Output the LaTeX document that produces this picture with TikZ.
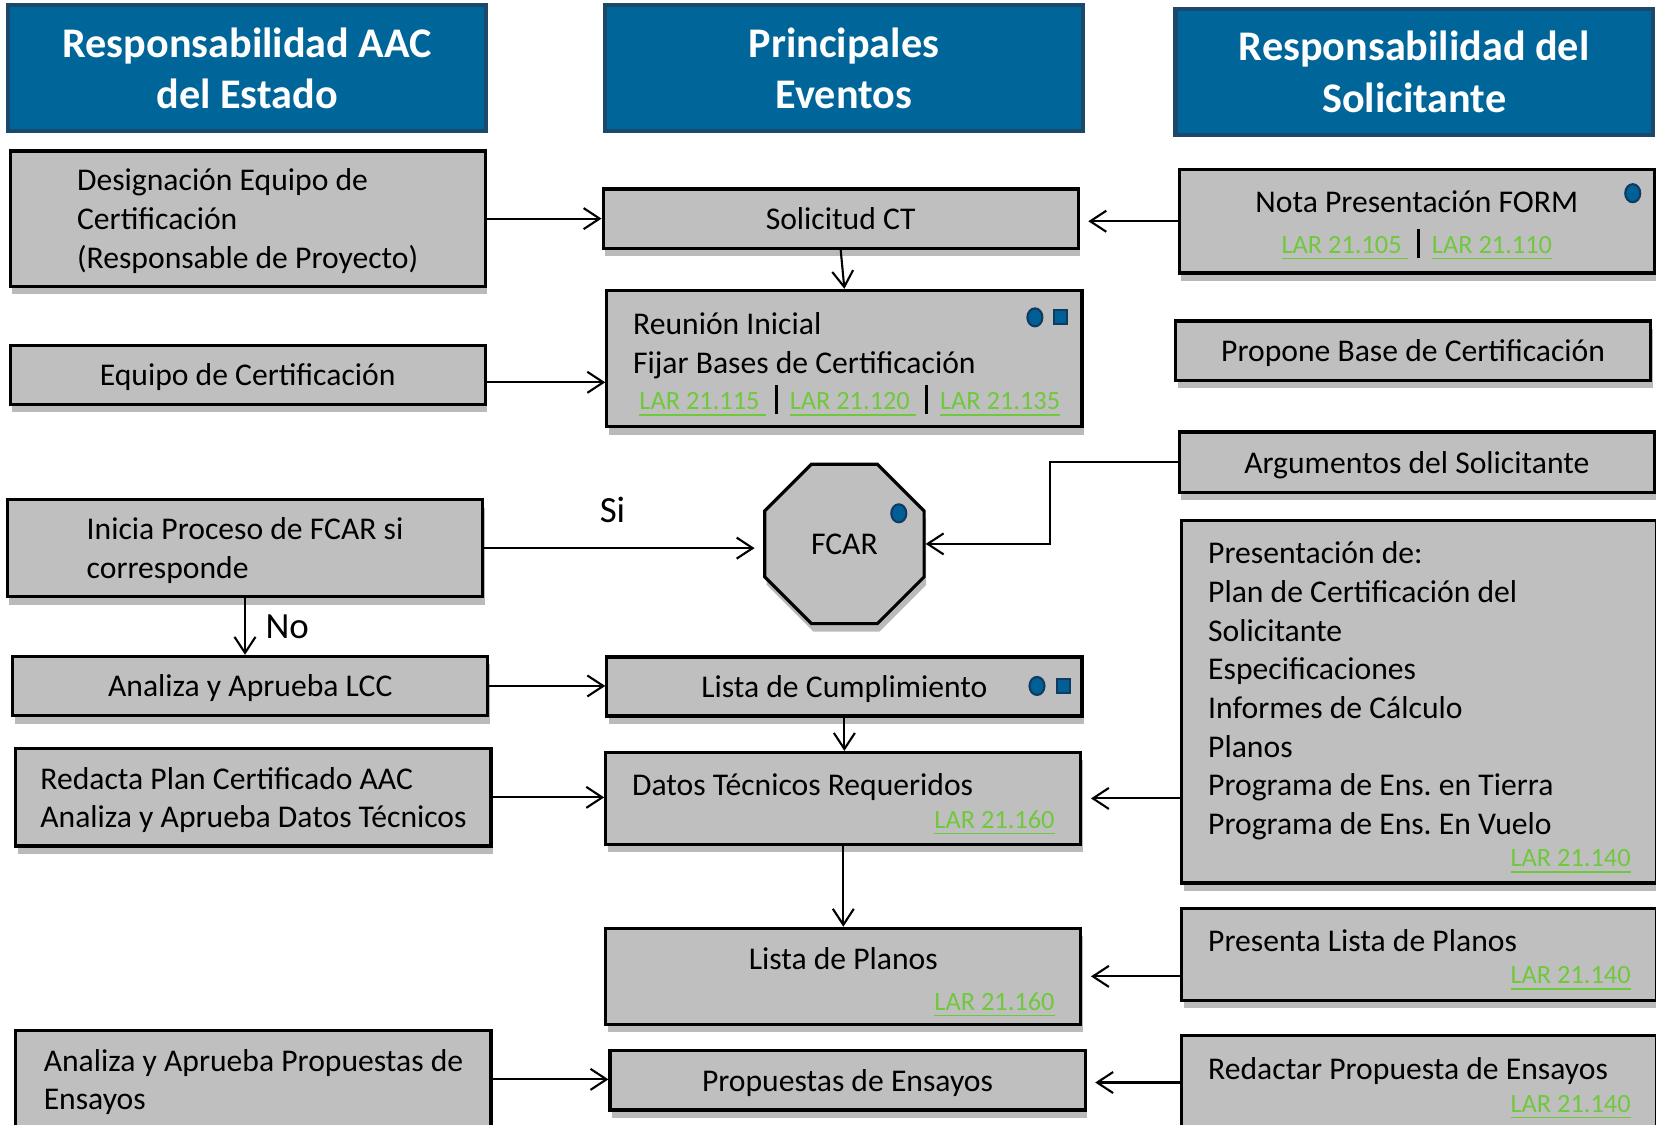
\documentclass[tikz,border=0pt]{standalone}
\usepackage{fontspec}
\setmainfont{Carlito}
\usetikzlibrary{shapes.geometric,arrows.meta,shadows}

\definecolor{cabecera}{RGB}{0,102,153}
\definecolor{bordecab}{RGB}{28,72,108}
\definecolor{gris}{RGB}{191,191,191}
\definecolor{enlace}{RGB}{112,200,60}
\definecolor{marca}{RGB}{0,96,150}
\definecolor{marcaosc}{RGB}{16,58,96}

\newcommand{\lar}[1]{\textcolor{enlace}{\fontsize{7.5}{9}\selectfont\underline{#1}}}
\newcommand{\barra}{\hspace{2.7pt}\rule[-1.2pt]{0.9pt}{8.2pt}\hspace{3.3pt}}
\newcommand{\larder}[2]{\makebox[4.224cm][r]{\raisebox{#1}{\lar{#2}}}}
\newcommand{\alto}{\rule{0pt}{9.8pt}}

\begin{document}
\frenchspacing
\begin{tikzpicture}[x=0.010561cm,y=-0.010561cm,
    cab/.style={draw=bordecab,line width=1.2pt,fill=cabecera,text=white,
      font=\fontsize{12}{14.6}\selectfont\bfseries,align=center,
      minimum width=4.774cm,minimum height=1.257cm,inner sep=0pt},
    marco/.style={draw,line width=0.9pt,fill=gris,font=\fontsize{9}{11}\selectfont,
      minimum width=4.75cm,inner sep=0pt,
      drop shadow={shadow xshift=0.2mm,shadow yshift=-0.8mm,fill=black!60,opacity=0.45}},
    caja/.style={marco,text depth=0pt},
    lista/.style={marco,align=flush left,text width=4.224cm},
    flecha/.style={-{Straight Barb[length=1.6mm,width=2.1mm]},line width=0.6pt},
    hueco/.style={shorten >=0.85mm},
    bola/.style={ellipse,fill=marca,draw=marcaosc,line width=0.6pt,
      minimum width=1.5mm,minimum height=1.8mm,inner sep=0pt},
    cuadro/.style={rectangle,fill=marca,draw=marcaosc,line width=0.6pt,
      minimum width=1.25mm,minimum height=1.4mm,inner sep=0pt},
    rotulo/.style={font=\fontsize{10.5}{12}\selectfont,inner sep=1pt}]

  \useasboundingbox (0,0) rectangle (1568,1065);

  \node[cab] (cabAAC) at (234,64.5) {Responsabilidad AAC\\del Estado};
  \node[cab] (cabEv) at (799,64.5) {Principales\\Eventos};
  \node[cab] (cabSol) at (1339,68) {Responsabilidad del\\Solicitante};

  \node[caja,align=left,minimum height=1.352cm] (designa) at (234.5,207)
    {Designación Equipo de\\Certificación\\(Responsable de Proyecto)};
  \node[caja,align=center,minimum height=0.591cm] (equipo) at (234.5,355)
    {Equipo de Certificación};
  \node[caja,align=left,minimum height=0.972cm] (inicia) at (232,519)
    {Inicia Proceso de FCAR si\\corresponde};
  \node[caja,align=center,minimum height=0.591cm] (lcc) at (237,649.5)
    {Analiza y Aprueba LCC};
  \node[caja,align=left,minimum height=0.972cm] (redacta) at (240,755)
    {Redacta Plan Certificado AAC\\Analiza y Aprueba Datos Técnicos};
  \node[caja,align=left,minimum height=0.972cm] (propAAC) at (240,1022)
    {Analiza y Aprueba Propuestas de\\Ensayos};

  \node[caja,align=center,minimum height=0.591cm] (solic) at (796,207) {Solicitud CT};
  \node[lista,minimum height=1.362cm] (reunion) at (799.5,339.5)
    {\alto Reunión Inicial\\Fijar Bases de Certificación\\
     \mbox{\hspace{1.8pt}\raisebox{0.5pt}{\lar{LAR 21.115\ }\barra\lar{LAR 21.120\ }\barra\lar{LAR 21.135}}}};
  \node[caja,regular polygon,regular polygon sides=8,minimum size=1.725cm,
    minimum width=0pt] (fcar) at (799.5,515) {FCAR};
  \node[caja,align=center,minimum height=0.591cm] (lista) at (799.5,650)
    {Lista de Cumplimiento};
  \node[lista,minimum height=0.919cm] (datos) at (798.5,756)
    {\alto Datos Técnicos Requeridos\\\larder{1.8pt}{LAR 21.160}};
  \node[lista,minimum height=0.961cm] (planos) at (798.5,924.5)
    {\alto\makebox[4.224cm][c]{Lista de Planos}\\\larder{-0.6pt}{LAR 21.160}};
  \node[caja,align=center,minimum height=0.591cm] (ensayos) at (802.5,1023)
    {Propuestas de Ensayos};

  \node[caja,align=center,minimum height=1.035cm] (nota) at (1341.5,209.5)
    {Nota Presentación FORM\\
     \raisebox{-0.6pt}{\lar{LAR 21.105\ }\barra\lar{LAR 21.110}}};
  \node[caja,align=center,minimum height=0.591cm] (propone) at (1338,332)
    {Propone Base de Certificación};
  \node[caja,align=center,minimum height=0.602cm] (argum) at (1341.5,437.5)
    {Argumentos del Solicitante};
  \node[lista,minimum height=3.622cm] (present) at (1344,664.5)
    {\alto Presentación de:\\Plan de Certificación del\\Solicitante\\Especificaciones\\
     Informes de Cálculo\\Planos\\Programa de Ens. en Tierra\\
     Programa de Ens. En Vuelo\\\larder{1.8pt}{LAR 21.140}};
  \node[lista,minimum height=0.919cm] (presLista) at (1344,903.5)
    {\alto Presenta Lista de Planos\\\larder{1.8pt}{LAR 21.140}};
  \node[lista,minimum height=0.94cm] (redEns) at (1344,1025)
    {\alto Redactar Propuesta de Ensayos\\\larder{1.8pt}{LAR 21.140}};

  \node[bola] (bReunion) at ([xshift=-0.486cm,yshift=-0.285cm]reunion.north east) {};
  \node[cuadro] (cReunion) at ([xshift=-0.232cm,yshift=-0.285cm]reunion.north east) {};
  \node[bola] (bLista) at ([xshift=-0.465cm,yshift=-0.306cm]lista.north east) {};
  \node[cuadro] (cLista) at ([xshift=-0.2cm,yshift=-0.306cm]lista.north east) {};
  \node[bola] (bNota) at ([xshift=-0.232cm,yshift=-0.253cm]nota.north east) {};
  \node[bola] (bFcar) at ([xshift=0.544cm,yshift=0.306cm]fcar.center) {};

  \draw[flecha] (designa) -- (solic);
  \draw[flecha,hueco] (nota.west) -- (nota.west -| solic.east);
  \draw[flecha] (solic.south) -- (reunion.north);
  \draw[flecha] ([yshift=-0.074cm]equipo.east) -- ([yshift=-0.074cm]equipo.east -| reunion.west);
  \draw[flecha,hueco] (inicia.east) -- (inicia.east -| fcar.west)
    node[rotulo,pos=0.46,above=2.1mm] (si) {Si};
  \draw[flecha] (argum.west) -- ++(-121,0) |- (fcar.east);
  \draw[flecha] (inicia.south) -- (inicia.south |- lcc.north)
    node[rotulo,midway,right=1.6mm] (no) {No};
  \draw[flecha] (lcc.east) -- (lcc.east -| lista.west);
  \draw[flecha] (lista.south) -- (lista.south |- datos.north);
  \draw[flecha] (redacta.east) -- (redacta.east -| datos.west);
  \draw[flecha,hueco] (datos.east -| present.west) -- (datos.east);
  \draw[flecha] (datos.south) -- (datos.south |- planos.north);
  \draw[flecha,hueco] (planos.east -| presLista.west) -- (planos.east);
  \draw[flecha] (propAAC.east) -- (propAAC.east -| ensayos.west);
  \draw[flecha,hueco] (redEns.west) -- (redEns.west -| ensayos.east);
\end{tikzpicture}
\end{document}
